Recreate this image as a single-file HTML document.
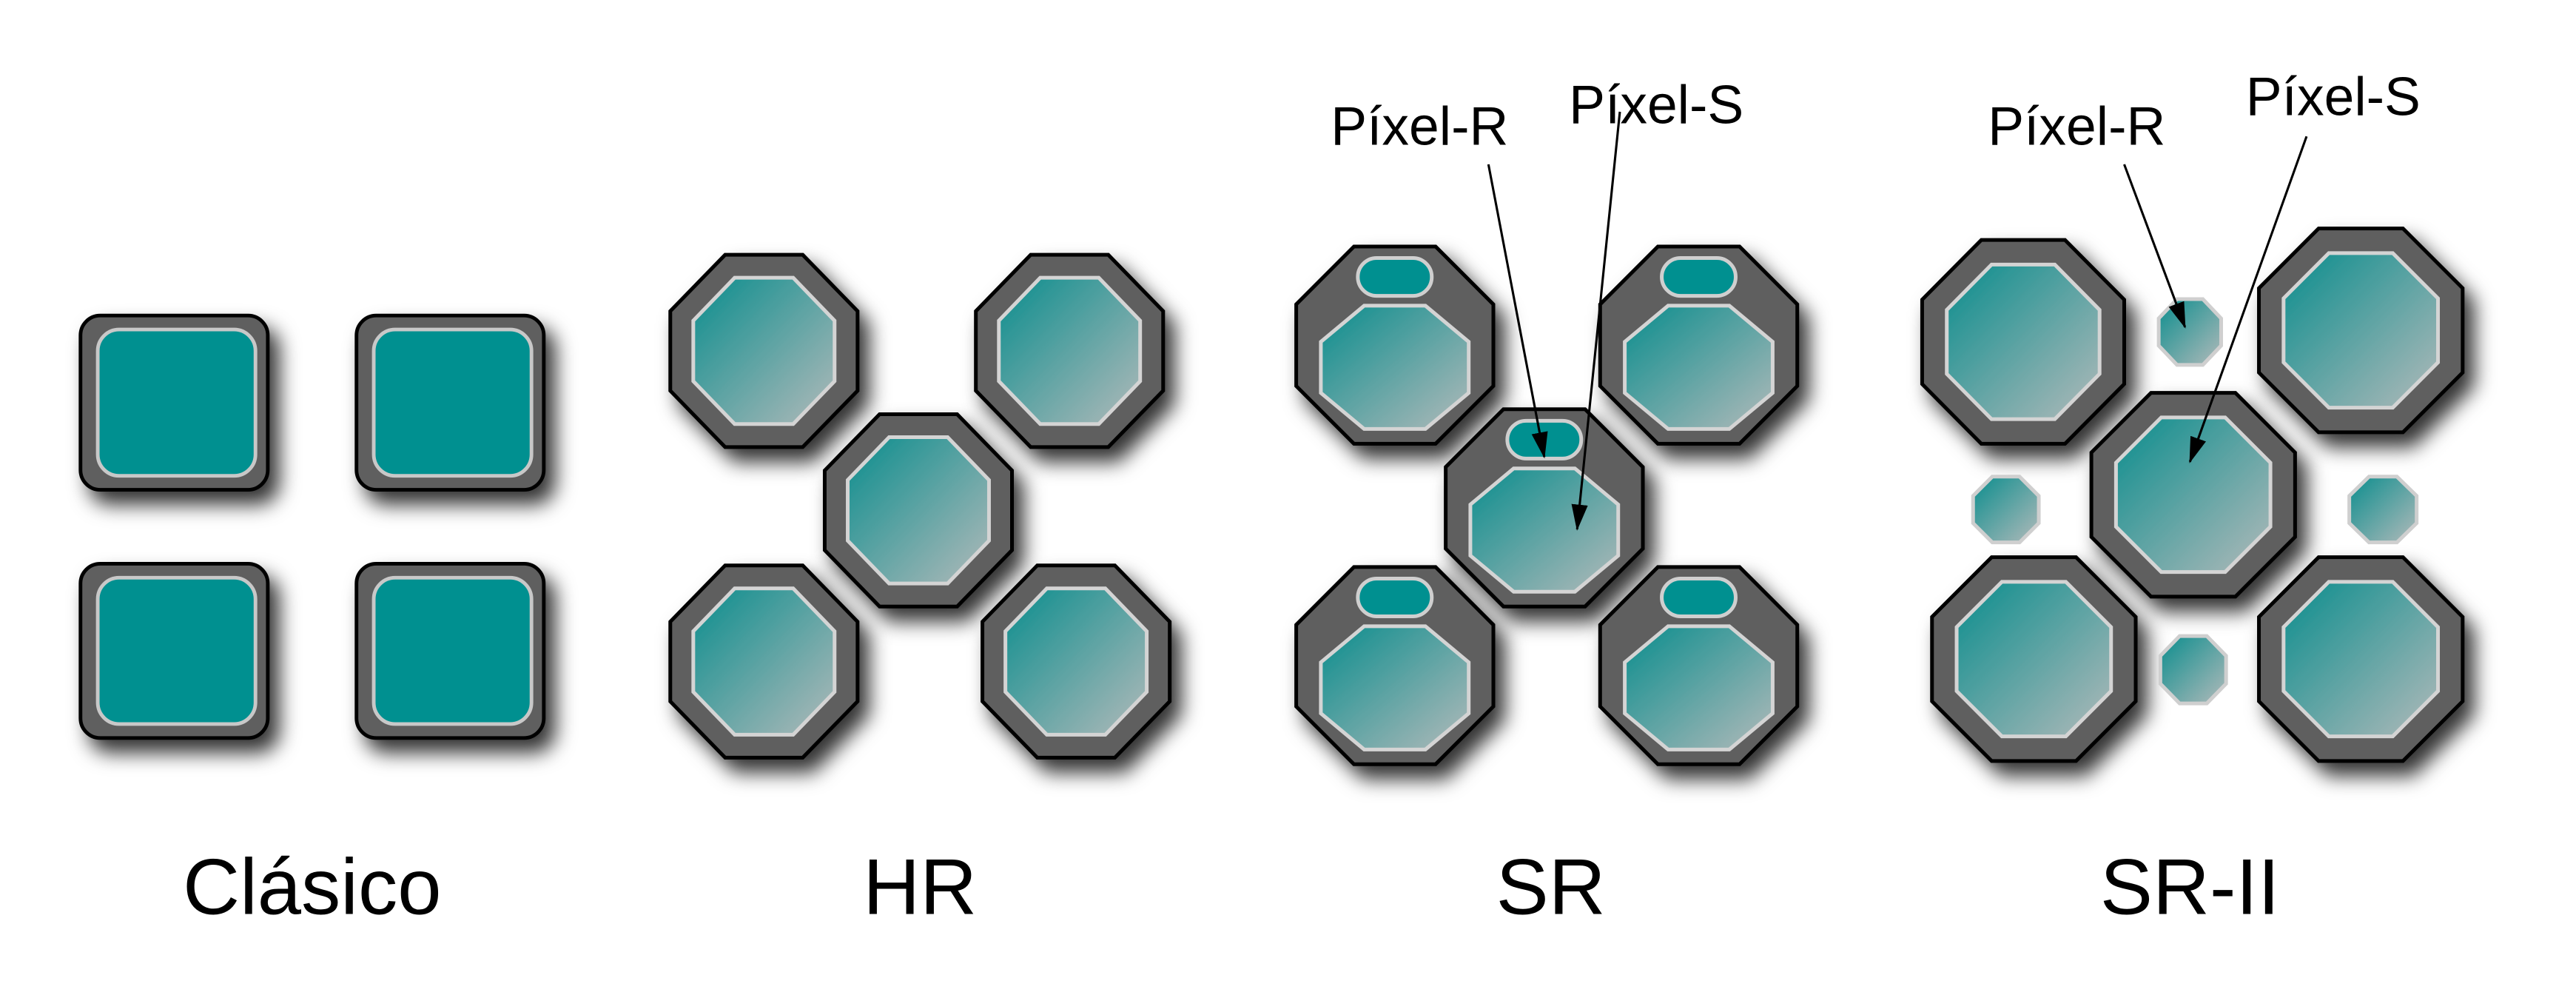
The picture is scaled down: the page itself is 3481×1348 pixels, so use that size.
<!DOCTYPE html>
<html><head><meta charset="utf-8"><style>
html,body{margin:0;padding:0;background:#fff;}
svg{display:block;}
.o{fill:#5f5f5f;stroke:#000;stroke-width:5;vector-effect:non-scaling-stroke;}
.i{fill:url(#g);stroke:#d4d4d4;stroke-width:5;vector-effect:non-scaling-stroke;}
.s{fill:url(#g);stroke:#cfcfcf;stroke-width:5;vector-effect:non-scaling-stroke;}
.p{fill:#009090;stroke:#cfcfcf;stroke-width:5;vector-effect:non-scaling-stroke;}
text{font-family:"Liberation Sans",Arial,sans-serif;fill:#000;}
</style></head><body>
<svg width="3481" height="1348" viewBox="0 0 1568 607.2" preserveAspectRatio="none" xmlns="http://www.w3.org/2000/svg">
<defs>
<linearGradient id="g" x1="0" y1="0" x2="1" y2="1">
<stop offset="0" stop-color="#0a8d8d"/><stop offset="1" stop-color="#b2baba"/></linearGradient>
<filter id="sh" x="-30%" y="-30%" width="170%" height="170%">
<feDropShadow dx="6" dy="8" stdDeviation="6" flood-color="#000" flood-opacity="0.8"/></filter>
<marker id="ar" markerWidth="16" markerHeight="10" refX="15" refY="5" orient="auto" markerUnits="userSpaceOnUse">
<path d="M0,0 L16,5 L0,10 z" fill="#000"/></marker>
</defs>
<rect width="1568" height="607.2" fill="#fff"/>

<g filter="url(#sh)">
<rect x="49" y="192" width="114" height="106" rx="12" fill="#5f5f5f" stroke="#000" stroke-width="2.2"/>
<rect x="59.5" y="200.5" width="96" height="89" rx="13" fill="#009090" stroke="#c8c8c8" stroke-width="2.2"/>
</g>
<g filter="url(#sh)">
<rect x="217" y="192" width="114" height="106" rx="12" fill="#5f5f5f" stroke="#000" stroke-width="2.2"/>
<rect x="227.5" y="200.5" width="96" height="89" rx="13" fill="#009090" stroke="#c8c8c8" stroke-width="2.2"/>
</g>
<g filter="url(#sh)">
<rect x="49" y="343" width="114" height="106" rx="12" fill="#5f5f5f" stroke="#000" stroke-width="2.2"/>
<rect x="59.5" y="351.5" width="96" height="89" rx="13" fill="#009090" stroke="#c8c8c8" stroke-width="2.2"/>
</g>
<g filter="url(#sh)">
<rect x="217" y="343" width="114" height="106" rx="12" fill="#5f5f5f" stroke="#000" stroke-width="2.2"/>
<rect x="227.5" y="351.5" width="96" height="89" rx="13" fill="#009090" stroke="#c8c8c8" stroke-width="2.2"/>
</g>

<g filter="url(#sh)"><polygon class="o" transform="translate(408,155) scale(114,117)" points=".293,0 .707,0 1,.293 1,.707 .707,1 .293,1 0,.707 0,.293"/><polygon class="i" transform="translate(422,169) scale(86,89)" points=".293,0 .707,0 1,.293 1,.707 .707,1 .293,1 0,.707 0,.293"/></g>
<g filter="url(#sh)"><polygon class="o" transform="translate(594,155) scale(114,117)" points=".293,0 .707,0 1,.293 1,.707 .707,1 .293,1 0,.707 0,.293"/><polygon class="i" transform="translate(608,169) scale(86,89)" points=".293,0 .707,0 1,.293 1,.707 .707,1 .293,1 0,.707 0,.293"/></g>
<g filter="url(#sh)"><polygon class="o" transform="translate(502,252) scale(114,117)" points=".293,0 .707,0 1,.293 1,.707 .707,1 .293,1 0,.707 0,.293"/><polygon class="i" transform="translate(516,266) scale(86,89)" points=".293,0 .707,0 1,.293 1,.707 .707,1 .293,1 0,.707 0,.293"/></g>
<g filter="url(#sh)"><polygon class="o" transform="translate(408,344) scale(114,117)" points=".293,0 .707,0 1,.293 1,.707 .707,1 .293,1 0,.707 0,.293"/><polygon class="i" transform="translate(422,358) scale(86,89)" points=".293,0 .707,0 1,.293 1,.707 .707,1 .293,1 0,.707 0,.293"/></g>
<g filter="url(#sh)"><polygon class="o" transform="translate(598,344) scale(114,117)" points=".293,0 .707,0 1,.293 1,.707 .707,1 .293,1 0,.707 0,.293"/><polygon class="i" transform="translate(612,358) scale(86,89)" points=".293,0 .707,0 1,.293 1,.707 .707,1 .293,1 0,.707 0,.293"/></g>

<g filter="url(#sh)"><polygon class="o" transform="translate(789,150) scale(120,120)" points=".293,0 .707,0 1,.293 1,.707 .707,1 .293,1 0,.707 0,.293"/><polygon class="i" transform="translate(804,186) scale(90,75)" points=".293,0 .707,0 1,.293 1,.707 .707,1 .293,1 0,.707 0,.293"/><rect class="p" x="826.5" y="157" width="45" height="23" rx="11.5"/></g>
<g filter="url(#sh)"><polygon class="o" transform="translate(974,150) scale(120,120)" points=".293,0 .707,0 1,.293 1,.707 .707,1 .293,1 0,.707 0,.293"/><polygon class="i" transform="translate(989,186) scale(90,75)" points=".293,0 .707,0 1,.293 1,.707 .707,1 .293,1 0,.707 0,.293"/><rect class="p" x="1011.5" y="157" width="45" height="23" rx="11.5"/></g>
<g filter="url(#sh)"><polygon class="o" transform="translate(880,249) scale(120,120)" points=".293,0 .707,0 1,.293 1,.707 .707,1 .293,1 0,.707 0,.293"/><polygon class="i" transform="translate(895,285) scale(90,75)" points=".293,0 .707,0 1,.293 1,.707 .707,1 .293,1 0,.707 0,.293"/><rect class="p" x="917.5" y="256" width="45" height="23" rx="11.5"/></g>
<g filter="url(#sh)"><polygon class="o" transform="translate(789,345) scale(120,120)" points=".293,0 .707,0 1,.293 1,.707 .707,1 .293,1 0,.707 0,.293"/><polygon class="i" transform="translate(804,381) scale(90,75)" points=".293,0 .707,0 1,.293 1,.707 .707,1 .293,1 0,.707 0,.293"/><rect class="p" x="826.5" y="352" width="45" height="23" rx="11.5"/></g>
<g filter="url(#sh)"><polygon class="o" transform="translate(974,345) scale(120,120)" points=".293,0 .707,0 1,.293 1,.707 .707,1 .293,1 0,.707 0,.293"/><polygon class="i" transform="translate(989,381) scale(90,75)" points=".293,0 .707,0 1,.293 1,.707 .707,1 .293,1 0,.707 0,.293"/><rect class="p" x="1011.5" y="352" width="45" height="23" rx="11.5"/></g>

<g filter="url(#sh)"><polygon class="o" transform="translate(1170,146) scale(123,124)" points=".293,0 .707,0 1,.293 1,.707 .707,1 .293,1 0,.707 0,.293"/><polygon class="i" transform="translate(1185,161) scale(93,94)" points=".293,0 .707,0 1,.293 1,.707 .707,1 .293,1 0,.707 0,.293"/></g>
<g filter="url(#sh)"><polygon class="o" transform="translate(1375,139) scale(124,124)" points=".293,0 .707,0 1,.293 1,.707 .707,1 .293,1 0,.707 0,.293"/><polygon class="i" transform="translate(1390,154) scale(94,94)" points=".293,0 .707,0 1,.293 1,.707 .707,1 .293,1 0,.707 0,.293"/></g>
<g filter="url(#sh)"><polygon class="o" transform="translate(1273,239) scale(124,124)" points=".293,0 .707,0 1,.293 1,.707 .707,1 .293,1 0,.707 0,.293"/><polygon class="i" transform="translate(1288,254) scale(94,94)" points=".293,0 .707,0 1,.293 1,.707 .707,1 .293,1 0,.707 0,.293"/></g>
<g filter="url(#sh)"><polygon class="o" transform="translate(1176,339) scale(124,124)" points=".293,0 .707,0 1,.293 1,.707 .707,1 .293,1 0,.707 0,.293"/><polygon class="i" transform="translate(1191,354) scale(94,94)" points=".293,0 .707,0 1,.293 1,.707 .707,1 .293,1 0,.707 0,.293"/></g>
<g filter="url(#sh)"><polygon class="o" transform="translate(1375,339) scale(124,124)" points=".293,0 .707,0 1,.293 1,.707 .707,1 .293,1 0,.707 0,.293"/><polygon class="i" transform="translate(1390,354) scale(94,94)" points=".293,0 .707,0 1,.293 1,.707 .707,1 .293,1 0,.707 0,.293"/></g>
<polygon class="s" transform="translate(1314,182) scale(38,40)" points=".293,0 .707,0 1,.293 1,.707 .707,1 .293,1 0,.707 0,.293"/>
<polygon class="s" transform="translate(1201,290) scale(40,40)" points=".293,0 .707,0 1,.293 1,.707 .707,1 .293,1 0,.707 0,.293"/>
<polygon class="s" transform="translate(1430,290) scale(41,40)" points=".293,0 .707,0 1,.293 1,.707 .707,1 .293,1 0,.707 0,.293"/>
<polygon class="s" transform="translate(1315,387) scale(40,41)" points=".293,0 .707,0 1,.293 1,.707 .707,1 .293,1 0,.707 0,.293"/>

<g stroke="#000" stroke-width="1.4" fill="none">
<line x1="906" y1="100" x2="940" y2="278" marker-end="url(#ar)"/>
<line x1="986" y1="68" x2="960" y2="322" marker-end="url(#ar)"/>
<line x1="1293" y1="100" x2="1330" y2="199" marker-end="url(#ar)"/>
<line x1="1404" y1="83" x2="1333" y2="281" marker-end="url(#ar)"/>
</g>

<text x="810" y="88" font-size="33">Píxel-R</text>
<text x="955" y="75" font-size="33">Píxel-S</text>
<text x="1210" y="88" font-size="33">Píxel-R</text>
<text x="1367" y="70" font-size="33">Píxel-S</text>

<text x="190" y="556" font-size="48" text-anchor="middle">Clásico</text>
<text x="560" y="556" font-size="48" text-anchor="middle">HR</text>
<text x="944" y="556" font-size="48" text-anchor="middle">SR</text>
<text x="1333" y="556" font-size="48" text-anchor="middle">SR-II</text>
</svg>
</body></html>
